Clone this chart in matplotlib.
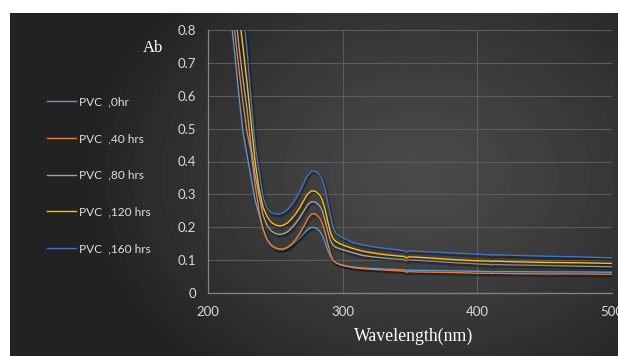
import numpy as np
import matplotlib
matplotlib.use("Agg")
import matplotlib.pyplot as plt
import matplotlib.patheffects as pe

# wavelength grid (nm) shared by all spectra
wavelength = [214, 217, 220, 223, 226, 229, 232, 235, 238, 241, 244, 247, 250, 253,
              256, 259, 262, 265, 268, 271, 274, 277, 280, 283, 285, 287, 289, 291,
              293, 295, 298, 302, 308, 315, 325, 335, 343, 346, 347.5, 349, 355, 370,
              385, 400, 410, 411, 412, 425, 450, 475, 500]

ab_0hr = [0.96, 0.835, 0.725, 0.60, 0.49, 0.42, 0.352, 0.283, 0.237, 0.19, 0.158, 0.142,
          0.135, 0.131, 0.132, 0.137, 0.145, 0.156, 0.168, 0.181, 0.193, 0.200, 0.198,
          0.188, 0.175, 0.155, 0.13, 0.11, 0.098, 0.092, 0.087, 0.083, 0.079, 0.076,
          0.074, 0.072, 0.071, 0.071, 0.068, 0.070, 0.069, 0.068, 0.067, 0.066, 0.065,
          0.064, 0.065, 0.065, 0.064, 0.064, 0.063]

ab_40hrs = [1.02, 0.90, 0.79, 0.68, 0.58, 0.49, 0.43, 0.33, 0.248, 0.195, 0.163, 0.146,
            0.138, 0.134, 0.134, 0.139, 0.148, 0.162, 0.180, 0.201, 0.225, 0.241, 0.240,
            0.228, 0.212, 0.185, 0.150, 0.120, 0.100, 0.092, 0.086, 0.082, 0.077, 0.074,
            0.071, 0.069, 0.067, 0.066, 0.063, 0.065, 0.064, 0.063, 0.062, 0.060, 0.060,
            0.059, 0.060, 0.059, 0.058, 0.058, 0.057]

ab_80hrs = [1.1, 0.99, 0.87, 0.75, 0.65, 0.56, 0.445, 0.36, 0.295, 0.235, 0.205, 0.189,
            0.181, 0.178, 0.180, 0.186, 0.197, 0.211, 0.228, 0.248, 0.268, 0.278, 0.276,
            0.265, 0.250, 0.222, 0.188, 0.160, 0.145, 0.139, 0.134, 0.129, 0.122, 0.114,
            0.109, 0.105, 0.103, 0.102, 0.098, 0.101, 0.100, 0.096, 0.092, 0.089, 0.087,
            0.085, 0.087, 0.086, 0.084, 0.082, 0.080]

ab_120hrs = [1.2, 1.08, 0.96, 0.85, 0.75, 0.64, 0.52, 0.40, 0.315, 0.26, 0.232, 0.215,
             0.207, 0.204, 0.206, 0.213, 0.225, 0.240, 0.258, 0.280, 0.301, 0.311, 0.309,
             0.298, 0.283, 0.255, 0.218, 0.185, 0.165, 0.157, 0.150, 0.143, 0.135, 0.127,
             0.120, 0.115, 0.112, 0.111, 0.106, 0.110, 0.109, 0.105, 0.101, 0.098, 0.097,
             0.095, 0.097, 0.095, 0.093, 0.092, 0.090]

ab_160hrs = [1.3, 1.2, 1.1, 0.99, 0.87, 0.74, 0.59, 0.45, 0.37, 0.29, 0.258, 0.245,
             0.240, 0.240, 0.245, 0.253, 0.267, 0.285, 0.307, 0.333, 0.357, 0.371, 0.370,
             0.360, 0.345, 0.315, 0.275, 0.235, 0.200, 0.182, 0.172, 0.164, 0.153, 0.146,
             0.139, 0.134, 0.130, 0.129, 0.124, 0.128, 0.127, 0.124, 0.121, 0.118, 0.116,
             0.114, 0.116, 0.115, 0.112, 0.110, 0.107]

labels = ["PVC  ,0hr", "PVC  ,40 hrs", "PVC  ,80 hrs", "PVC  ,120 hrs", "PVC  ,160 hrs"]
series = [ab_0hr, ab_40hrs, ab_80hrs, ab_120hrs, ab_160hrs]
colors = ["#5B9BD5", "#ED7D31", "#A5A5A5", "#FFC000", "#4472C4"]

W, H = 618, 356
fig = plt.figure(figsize=(W / 100, H / 100), dpi=100)
fig.patch.set_facecolor("white")

# dark radial background (chart area starts below/right of a white strip)
bg = fig.add_axes([10 / W, 0, 608 / W, 343 / H], zorder=-1)
yy, xx = np.mgrid[0:343, 0:608]
d = np.sqrt(((xx + 10 - 420) / 340.0) ** 2 + ((yy + 13 - 175) / 260.0) ** 2)
shade = 74 - 40 * np.clip(d, 0, 1) ** 1.3
bg.imshow(shade, cmap="gray", vmin=0, vmax=255, aspect="auto", interpolation="bilinear")
bg.axis("off")

ax = fig.add_axes([208 / W, 1 - 293 / H, 403.7 / W, 263 / H])
ax.set_facecolor("none")

shadow = [pe.SimpleLineShadow(offset=(0.8, -1.2), shadow_color="black", alpha=0.3, linewidth=2.2),
          pe.Normal()]
for vals, lab, c in zip(series, labels, colors):
    ax.plot(wavelength, vals, color=c, lw=1.0, label=lab, path_effects=shadow)

ax.set_xlim(200, 500)
ax.set_ylim(0, 0.8)
ax.set_xticks([200, 300, 400, 500])
ax.set_yticks([0, 0.1, 0.2, 0.3, 0.4, 0.5, 0.6, 0.7, 0.8])
ax.set_yticklabels(["0", "0.1", "0.2", "0.3", "0.4", "0.5", "0.6", "0.7", "0.8"])
ax.grid(True, color="#5c5c5c", lw=0.8)
ax.set_axisbelow(True)
for s in ["top", "right"]:
    ax.spines[s].set_visible(False)
for s in ["left", "bottom"]:
    ax.spines[s].set_color("#858585")
    ax.spines[s].set_linewidth(0.9)
ax.tick_params(axis="both", length=0, colors="#d9d9d9", labelsize=9.5)
ax.tick_params(axis="y", pad=8.5)
ax.tick_params(axis="x", pad=9.5)
for t in ax.get_xticklabels() + ax.get_yticklabels():
    t.set_family("Lato")

fig.text(153 / W, 1 - 48 / H, "Ab", family="Liberation Serif", fontsize=12,
         color="white", ha="center", va="center")
fig.text(414 / W, 1 - 336 / H, "Wavelength(nm)", family="Liberation Serif", fontsize=12.8,
         color="white", ha="center", va="center")

leg = fig.legend(loc="center left", bbox_to_anchor=(47.3 / W, 1 - 175.3 / H),
                 frameon=False, handlelength=2.43, handletextpad=0.25,
                 labelspacing=2.15, borderpad=0, borderaxespad=0,
                 prop={"family": "Lato", "size": 8.6})
for t in leg.get_texts():
    t.set_color("#e0e0e0")
for h in leg.get_lines():
    h.set_path_effects([])
    h.set_linewidth(1.0)

fig.savefig("out.png", dpi=100, facecolor=fig.get_facecolor())
